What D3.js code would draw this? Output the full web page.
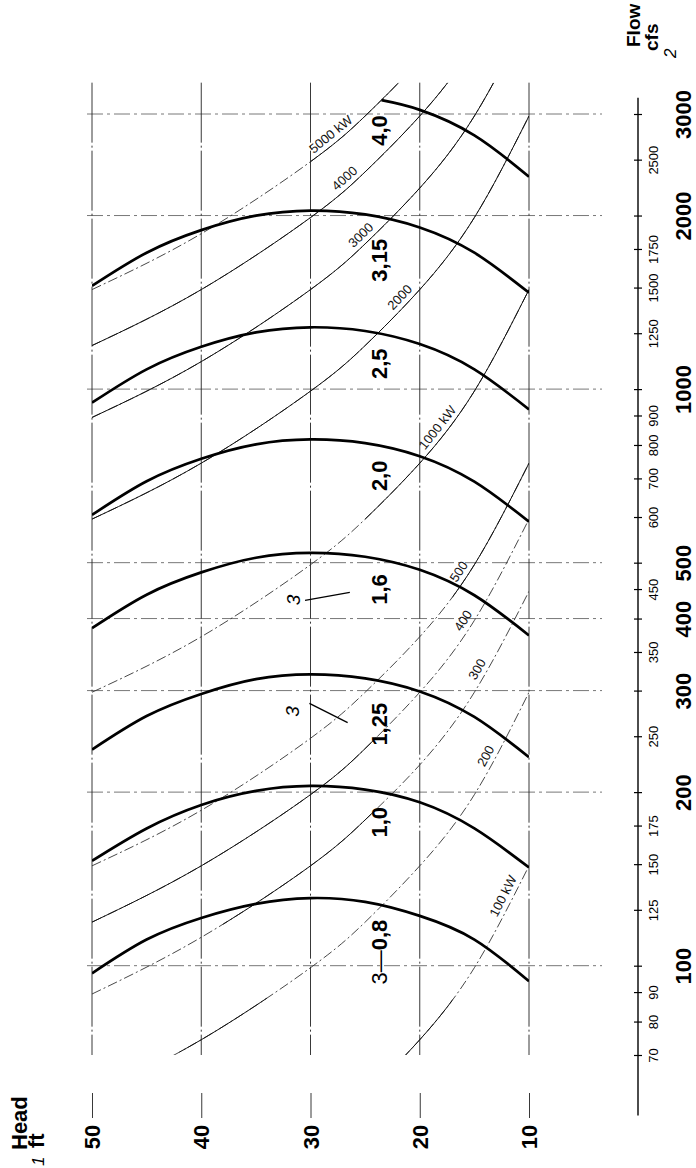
<!DOCTYPE html>
<html>
<head>
<meta charset="utf-8">
<script src="https://cdn.jsdelivr.net/npm/d3@7"></script>
<style>
  body { margin: 0; background: #fff; }
  svg { display: block; font-family: 'Liberation Sans', Arial, sans-serif; }
</style>
</head>
<body>
<div id="chart"></div>
<script>
// axes
const headTicks = [50, 40, 30, 20, 10];
const flowMajor = [100, 200, 300, 400, 500, 1000, 2000, 3000];
const flowMinor = [70, 80, 90, 125, 150, 175, 250, 350, 450, 600, 700, 800, 900, 1250, 1500, 1750, 2500];

// runner diameter curves (m), flow in cfs at each head
const runnerLabels = ['0,8', '1,0', '1,25', '1,6', '2,0', '2,5', '3,15'];
const runnerHeads = [50, 45, 40, 35, 30, 25, 20, 15, 10];
const runnerFlows = [
  [97, 111, 121, 128, 131, 129, 122, 111, 94],
  [152, 173, 190, 201, 205, 202, 192, 173, 148],
  [237, 271, 296, 314, 320, 315, 299, 270, 230],
  [385, 440, 481, 510, 520, 512, 486, 439, 374],
  [605, 692, 757, 802, 818, 806, 765, 691, 589],
  [947, 1082, 1184, 1254, 1280, 1261, 1197, 1082, 922],
  [1510, 1724, 1887, 1999, 2040, 2009, 1907, 1724, 1469]
];
const topRunnerLabel = '4,0';
const topRunnerHeads = [23.5, 20, 15, 10];
const topRunnerFlows = [3170, 3050, 2755, 2335];

// power lines
const kwLabels = ['100 kW', '200', '300', '400', '500', '1000 kW', '2000', '3000', '4000', '5000 kW'];
const kwHeads = [50, 40, 30, 25, 20, 15, 10];
const kwFlows = [
  [29.8, 37.2, 49.6, 59.5, 74.4, 99.2, 149],
  [59.5, 74.4, 99.2, 119, 149, 198, 298],
  [89.3, 112, 149, 179, 223, 298, 446],
  [119, 149, 198, 238, 298, 397, 595],
  [149, 186, 248, 298, 372, 496, 744],
  [298, 372, 496, 595, 744, 992, 1488],
  [595, 744, 992, 1190, 1488, 1984, 2976],
  [893, 1116, 1488, 1786, 2232, 2976, 4464],
  [1190, 1488, 1984, 2381, 2976, 3968, 5952],
  [1488, 1860, 2480, 2976, 3720, 4960, 7440]
];
const kwLabelHeads = [11.6, 13.2, 14.0, 15.3, 15.7, 17.7, 21.2, 24.8, 26.3, 27.6];
// head range (high, low) where each line is drawn solid, dash-dot elsewhere
const kwSolidHeads = [[22, 17], [42, 34], [38, 24], [50, 24], [17, 10], [25, 10], [50, 10], [50, 10], [50, 10], [30, 10]];

// "3" callouts: text at [head, flow], leader from/to [head, flow]
const calloutText = [[31.7, 276], [31.6, 431]];
const calloutLeaders = [[[30.1, 285], [26.6, 264]], [[30.5, 430], [26.4, 444]]];

const width = 696;
const height = 1168;
const flowTop = 3400;
const flowBottom = 70;
const axisX = 638;
const gridLeft = 87;
const gridRight = 602;

const svg = d3.select('#chart').append('svg')
  .attr('width', width)
  .attr('height', height);

const x = d3.scaleLinear().domain([50, 10]).range([92, 529]);
const y = d3.scaleLog().domain([3000, 70]).range([114, 1055]);

const defs = svg.append('defs');
defs.append('clipPath').attr('id', 'plot-clip')
  .append('rect')
  .attr('x', x(50))
  .attr('y', y(flowTop))
  .attr('width', x(10) - x(50))
  .attr('height', y(flowBottom) - y(flowTop));

// grid
const grid = svg.append('g').attr('class', 'grid');

grid.selectAll('.hgrid')
  .data(flowMajor)
  .join('line')
  .attr('x1', gridLeft)
  .attr('x2', gridRight)
  .attr('y1', (d) => y(d))
  .attr('y2', (d) => y(d))
  .style('stroke', '#555')
  .style('stroke-width', 0.8)
  .style('stroke-dasharray', '16,4,3,4');

grid.selectAll('.vgrid')
  .data(headTicks)
  .join('line')
  .attr('x1', (d) => x(d))
  .attr('x2', (d) => x(d))
  .attr('y1', y(flowTop))
  .attr('y2', y(flowBottom))
  .style('stroke', '#222')
  .style('stroke-width', 0.9)
  .style('stroke-dasharray', '60,3,2,3');

// power lines
const lineGen = d3.line()
  .x((d) => x(d[0]))
  .y((d) => y(d[1]))
  .curve(d3.curveNatural);

const kwGroup = svg.append('g').attr('clip-path', 'url(#plot-clip)');
const kwPaths = [];

kwFlows.forEach((flows, i) => {
  const pts = kwHeads.map((h, j) => [h, flows[j]]);
  const solid = kwSolidHeads[i];

  defs.append('clipPath').attr('id', `kw-solid-${i}`)
    .append('rect')
    .attr('x', x(solid[0]))
    .attr('y', y(flowTop))
    .attr('width', x(solid[1]) - x(solid[0]))
    .attr('height', y(flowBottom) - y(flowTop));

  kwGroup.append('path')
    .datum(pts)
    .attr('d', lineGen)
    .style('fill', 'none')
    .style('stroke', '#333')
    .style('stroke-width', 0.9)
    .style('stroke-dasharray', '10,3,2,3');

  const solidPath = kwGroup.append('g')
    .attr('clip-path', `url(#kw-solid-${i})`)
    .append('path')
    .datum(pts)
    .attr('d', lineGen)
    .style('fill', 'none')
    .style('stroke', '#111')
    .style('stroke-width', 1);

  kwPaths.push(solidPath);
});

// find the point of a path at a page x, with the local slope angle
function pointAtX(path, targetX) {
  const node = path.node();
  const total = node.getTotalLength();
  let lo = 0;
  let hi = total;
  for (let k = 0; k < 30; k++) {
    const mid = (lo + hi) / 2;
    if (node.getPointAtLength(mid).x < targetX) lo = mid; else hi = mid;
  }
  const p = node.getPointAtLength(lo);
  const p1 = node.getPointAtLength(Math.max(0, lo - 3));
  const p2 = node.getPointAtLength(Math.min(total, lo + 3));
  return { x: p.x, y: p.y, angle: Math.atan2(p2.y - p1.y, p2.x - p1.x) * 180 / Math.PI };
}

kwPaths.forEach((path, i) => {
  const p = pointAtX(path, x(kwLabelHeads[i]));
  svg.append('text')
    .attr('transform', `translate(${p.x},${p.y}) rotate(${p.angle})`)
    .attr('y', -5)
    .attr('text-anchor', 'middle')
    .style('font-size', '13px')
    .style('fill', '#111')
    .text(kwLabels[i]);
});

// runner curves
const runnerGroup = svg.append('g').attr('clip-path', 'url(#plot-clip)');
const runnerPaths = runnerFlows.map((flows) => runnerGroup.append('path')
  .datum(runnerHeads.map((h, j) => [h, flows[j]]))
  .attr('d', lineGen)
  .style('fill', 'none')
  .style('stroke', '#000')
  .style('stroke-width', 2.7));

runnerPaths.push(runnerGroup.append('path')
  .datum(topRunnerHeads.map((h, j) => [h, topRunnerFlows[j]]))
  .attr('d', lineGen)
  .style('fill', 'none')
  .style('stroke', '#000')
  .style('stroke-width', 2.7));

const allRunnerLabels = runnerLabels.concat([topRunnerLabel]);
const runnerLabelX = x(23.7);

runnerPaths.forEach((path, i) => {
  const p = pointAtX(path, runnerLabelX);
  const gap = allRunnerLabels[i].length > 3 ? 22 : 15;
  const label = svg.append('text')
    .attr('transform', `translate(${runnerLabelX},${p.y + gap}) rotate(-90)`)
    .attr('dy', '0.35em')
    .attr('text-anchor', 'end')
    .style('font-size', '22px')
    .style('fill', '#000');
  if (i === 0) {
    label.append('tspan').style('font-weight', 'normal').text('3—');
  }
  label.append('tspan').style('font-weight', 'bold').text(allRunnerLabels[i]);
});

// callouts
calloutText.forEach((c, i) => {
  svg.append('text')
    .attr('transform', `translate(${x(c[0])},${y(c[1])}) rotate(-90)`)
    .attr('dy', '0.35em')
    .attr('text-anchor', 'middle')
    .style('font-size', '19px')
    .style('font-style', 'italic')
    .text('3');
  const l = calloutLeaders[i];
  svg.append('line')
    .attr('x1', x(l[0][0]))
    .attr('y1', y(l[0][1]))
    .attr('x2', x(l[1][0]))
    .attr('y2', y(l[1][1]))
    .style('stroke', '#000')
    .style('stroke-width', 1.3);
});

// flow axis
const flowAxis = d3.axisRight(y)
  .tickValues(flowMajor.concat(flowMinor))
  .tickSize(0)
  .tickFormat(d3.format('d'));

const flowG = svg.append('g')
  .attr('class', 'flowAxis')
  .attr('transform', `translate(${axisX},0)`)
  .call(flowAxis);

flowG.select('.domain').remove();
flowG.append('line')
  .attr('y1', y(3200))
  .attr('y2', y(55))
  .style('stroke', '#000')
  .style('stroke-width', 1.4);

flowG.selectAll('.tick line')
  .attr('x1', -4)
  .attr('x2', 4)
  .style('stroke', '#000')
  .style('stroke-width', 1.2);

flowG.selectAll('.tick text')
  .attr('x', null)
  .attr('dy', '0.35em')
  .attr('text-anchor', 'middle')
  .attr('transform', (d) => `translate(${flowMajor.includes(d) ? 45 : 15},0) rotate(-90)`)
  .style('font-family', "'Liberation Sans', Arial, sans-serif")
  .style('font-size', (d) => (flowMajor.includes(d) ? '22px' : '13px'))
  .style('font-weight', (d) => (flowMajor.includes(d) ? 'bold' : 'normal'))
  .style('fill', '#000');

// head axis
const headAxis = d3.axisBottom(x)
  .tickValues(headTicks)
  .tickSize(25)
  .tickFormat(d3.format('d'));

const headG = svg.append('g')
  .attr('class', 'headAxis')
  .attr('transform', 'translate(0,1093)')
  .call(headAxis);

headG.select('.domain').remove();
headG.selectAll('.tick line').style('stroke', '#222').style('stroke-width', 0.9);
headG.selectAll('.tick text')
  .attr('y', null)
  .attr('dy', '0.35em')
  .attr('text-anchor', 'middle')
  .attr('transform', 'translate(0,44) rotate(-90)')
  .style('font-family', "'Liberation Sans', Arial, sans-serif")
  .style('font-size', '22px')
  .style('font-weight', 'bold')
  .style('fill', '#000');

// axis titles
const titles = svg.append('g').style('fill', '#000');

titles.append('text')
  .attr('transform', 'translate(27,1150) rotate(-90)')
  .style('font-size', '22px')
  .style('font-weight', 'bold')
  .text('Head');

titles.append('text')
  .attr('transform', 'translate(44,1148) rotate(-90)')
  .style('font-size', '22px')
  .style('font-weight', 'bold')
  .text('ft');

titles.append('text')
  .attr('transform', 'translate(44,1166) rotate(-90)')
  .style('font-size', '17px')
  .style('font-style', 'italic')
  .text('1');

titles.append('text')
  .attr('transform', 'translate(640,47) rotate(-90)')
  .style('font-size', '19px')
  .style('font-weight', 'bold')
  .text('Flow');

titles.append('text')
  .attr('transform', 'translate(658,51) rotate(-90)')
  .style('font-size', '19px')
  .style('font-weight', 'bold')
  .text('cfs');

titles.append('text')
  .attr('transform', 'translate(676,58) rotate(-90)')
  .style('font-size', '17px')
  .style('font-style', 'italic')
  .text('2');
</script>
</body>
</html>
